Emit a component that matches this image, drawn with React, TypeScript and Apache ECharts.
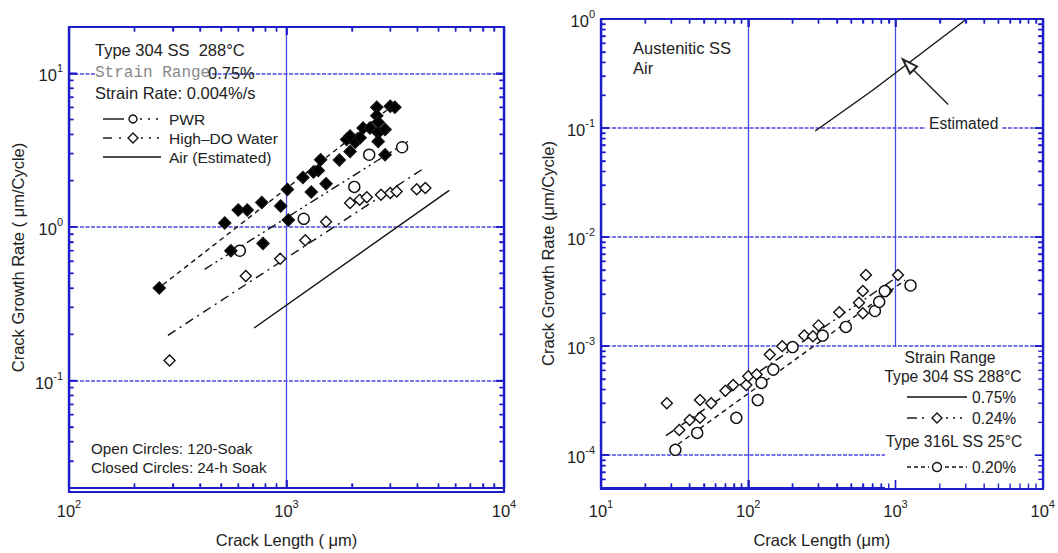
import React, { useEffect, useRef } from 'react';
import * as echarts from 'echarts';

// ---------- data (left panel: Type 304 SS, 288°C) ----------
const leftClosedDiamonds: [number, number][] = [
  [260, 0.40], [520, 1.06], [600, 1.29], [660, 1.29], [770, 1.44], [940, 1.37],
  [555, 0.70], [780, 0.78], [1010, 1.75], [1020, 1.11], [1190, 2.1], [1300, 1.69],
  [1330, 2.28], [1400, 2.33], [1435, 2.74], [1520, 1.91], [1750, 2.73], [1890, 3.7],
  [1960, 3.1], [2070, 3.55], [2180, 3.8], [2250, 4.4], [2600, 6.0], [2600, 5.3],
  [2640, 4.8], [2640, 4.1], [2840, 4.3], [2640, 3.6], [2840, 2.95], [3000, 6.1],
  [3150, 6.0], [2420, 4.4], [1960, 3.9],
];
const leftOpenCircles: [number, number][] = [
  [610, 0.70], [1200, 1.13], [2050, 1.82], [2400, 2.95], [3400, 3.3],
];
const leftOpenDiamonds: [number, number][] = [
  [290, 0.135], [650, 0.48], [935, 0.62], [1220, 0.82], [1520, 1.08], [1960, 1.43],
  [2170, 1.5], [2340, 1.56], [2720, 1.62], [3000, 1.66], [3210, 1.70], [3970, 1.76], [4350, 1.79],
];
const leftClosedFit: [number, number][] = [[270, 0.42], [3220, 6.47]];
const leftPwrFit: [number, number][] = [[420, 0.53], [3700, 3.68]];
const leftOpenFit: [number, number][] = [[285, 0.197], [4250, 2.39]];
const leftAir: [number, number][] = [[710, 0.22], [5600, 1.73]];

// ---------- data (right panel: Austenitic SS, air) ----------
const rightDiamonds: [number, number][] = [
  [28, 3.0e-4], [34, 1.7e-4], [40, 2.1e-4], [47, 3.2e-4], [47, 2.2e-4], [56, 3.0e-4],
  [70, 3.9e-4], [79, 4.4e-4], [97, 4.4e-4], [100, 5.3e-4], [114, 5.5e-4], [140, 8.4e-4],
  [170, 1.0e-3], [240, 1.25e-3], [275, 1.23e-3], [300, 1.55e-3], [415, 2.05e-3],
  [565, 2.5e-3], [600, 2.0e-3], [600, 3.2e-3], [630, 4.5e-3], [870, 3.2e-3], [1040, 4.5e-3],
];
const rightCircles: [number, number][] = [
  [32, 1.12e-4], [45, 1.6e-4], [83, 2.2e-4], [116, 3.2e-4], [123, 4.6e-4], [148, 6.1e-4],
  [200, 9.8e-4], [320, 1.25e-3], [460, 1.5e-3], [725, 2.1e-3], [775, 2.55e-3],
  [845, 3.2e-3], [1265, 3.6e-3],
];
const rightEstimated: [number, number][] = [[285, 0.094], [700, 0.222], [3040, 1.0]];
const rightFit024: [number, number][] = [[27.6, 1.51e-4], [1070, 4.48e-3]];
const rightFit020: [number, number][] = [[33.4, 1.26e-4], [1160, 4.03e-3]];
const arrowTail: [number, number] = [2280, 0.164];
const arrowTip: [number, number] = [1219, 0.381];

// axis ranges
const leftX = [100, 10000];
const leftY = [0.02, 20];
const rightX = [10, 10000];
const rightY = [5e-5, 1];
const MINOR_MULTS = [2, 3, 4, 5, 6, 7, 8, 9];

const FONT = '"Liberation Sans", Arial, Helvetica, sans-serif';
const TXT = '#222';
const AXIS = '#1c1cc8';
const GRID = '#4a4ae0';
const FS = 16.5;

const GRIDS = [
  { left: 69, top: 27, width: 435, height: 465 },
  { left: 601, top: 19, width: 442, height: 470 },
];

function supLabel(v: number): string {
  const l = Math.log10(v);
  const e = Math.round(l);
  if (Math.abs(l - e) > 1e-6) return '';
  return `{b|10}{s|${e}}`;
}

const labelRich = {
  b: { fontSize: 16.5, fontFamily: FONT, color: TXT, verticalAlign: 'bottom', lineHeight: 21 },
  s: { fontSize: 11, fontFamily: FONT, color: TXT, verticalAlign: 'top', lineHeight: 11 },
};

// tick values (data space) inside a log range
function tickValues(range: number[], major: boolean): number[] {
  const lo = Math.log10(range[0]);
  const hi = Math.log10(range[1]);
  const out: number[] = [];
  for (let e = Math.floor(lo) - 1; e <= Math.ceil(hi); e++) {
    const mults = major ? [1] : MINOR_MULTS;
    for (const k of mults) {
      const l = Math.log10(k) + e;
      if (l > lo + 1e-9 && l < hi - 1e-9) out.push(k * Math.pow(10, e));
    }
  }
  return out;
}

function axisSet(dim: 'x' | 'y', grid: number, range: number[], name: string, nameGap: number) {
  const lo = Math.log10(range[0]);
  const hi = Math.log10(range[1]);
  const minors = tickValues(range, false).map((v) => Math.log10(v));
  const pos = dim === 'x' ? ['bottom', 'top'] : ['left', 'right'];
  const major = (p: string, main: boolean) => ({
    type: 'log',
    logBase: 10,
    gridIndex: grid,
    position: p,
    min: range[0],
    max: range[1],
    name: main ? name : '',
    nameLocation: 'middle',
    nameGap,
    nameTextStyle: { fontFamily: FONT, fontSize: FS, color: TXT },
    axisLine: { show: true, onZero: false, lineStyle: { color: AXIS, width: 2.2 } },
    axisTick: { show: true, inside: true, length: 8, lineStyle: { color: AXIS, width: 1.6 } },
    axisLabel: { show: main, formatter: supLabel, rich: labelRich, margin: dim === 'x' ? 10 : 6 },
    splitLine: {
      show: main,
      lineStyle: dim === 'x'
        ? { color: GRID, width: 1.3, type: 'solid' }
        : { color: GRID, width: 1.5, type: [4, 1.5] },
    },
  });
  const minor = (p: string) => ({
    type: 'value',
    gridIndex: grid,
    position: p,
    min: lo,
    max: hi,
    axisLine: { show: false, onZero: false },
    axisLabel: { show: false },
    splitLine: { show: false },
    axisTick: { show: true, inside: true, length: 4.5, customValues: minors, lineStyle: { color: AXIS, width: 1.4 } },
  });
  return [major(pos[0], true), minor(pos[0]), major(pos[1], false), minor(pos[1])];
}

// tick marks on all four sides, placed through the axes' own scales
function tickSeries(grid: number, dim: 'x' | 'y', xr: number[], yr: number[], major: boolean) {
  const vals = tickValues(dim === 'x' ? xr : yr, major);
  const len = major ? 8 : 4.5;
  const lw = major ? 1.6 : 1.4;
  return {
    type: 'custom',
    coordinateSystem: 'cartesian2d',
    xAxisIndex: grid * 4,
    yAxisIndex: grid * 4,
    silent: true,
    clip: false,
    z: 30,
    data: vals.map((v) => (dim === 'x' ? [v, yr[0]] : [xr[0], v])),
    renderItem: (params: any, api: any) => {
      const cs = params.coordSys;
      const p = api.coord([api.value(0), api.value(1)]);
      const st = { stroke: AXIS, lineWidth: lw };
      if (dim === 'x') {
        const x = p[0];
        return {
          type: 'group',
          children: [
            { type: 'line', shape: { x1: x, y1: cs.y + cs.height, x2: x, y2: cs.y + cs.height - len }, style: st },
            { type: 'line', shape: { x1: x, y1: cs.y, x2: x, y2: cs.y + len }, style: st },
          ],
        };
      }
      const y = p[1];
      return {
        type: 'group',
        children: [
          { type: 'line', shape: { x1: cs.x, y1: y, x2: cs.x + len, y2: y }, style: st },
          { type: 'line', shape: { x1: cs.x + cs.width, y1: y, x2: cs.x + cs.width - len, y2: y }, style: st },
        ],
      };
    },
  };
}

function scatter(data: [number, number][], grid: number, symbol: string, size: number, fill: string) {
  return {
    type: 'scatter',
    xAxisIndex: grid * 4,
    yAxisIndex: grid * 4,
    data,
    symbol,
    symbolSize: size,
    itemStyle: { color: fill, borderColor: '#111', borderWidth: 1.4, opacity: 1 },
    z: 5,
  };
}

function fitLine(data: [number, number][], grid: number, type: any, extra: any = {}) {
  return {
    type: 'line',
    xAxisIndex: grid * 4,
    yAxisIndex: grid * 4,
    data,
    symbol: 'none',
    showSymbol: false,
    lineStyle: { color: '#111', width: 1.4, type },
    z: 4,
    ...extra,
  };
}

const T = (x: number, y: number, text: string, extra: any = {}) => ({
  type: 'text',
  x,
  y,
  z: 20,
  style: { text, fontFamily: FONT, fontSize: FS, fill: TXT, verticalAlign: 'middle', ...extra },
});
const L = (x1: number, y1: number, x2: number, y2: number, dash: any = null) => ({
  type: 'line',
  z: 20,
  shape: { x1, y1, x2, y2 },
  style: { stroke: '#111', lineWidth: 1.4, lineDash: dash },
});
const C = (cx: number, cy: number, r: number) => ({
  type: 'circle',
  z: 21,
  shape: { cx, cy, r },
  style: { fill: '#fff', stroke: '#111', lineWidth: 1.4 },
});
const D = (cx: number, cy: number, r: number) => ({
  type: 'polygon',
  z: 21,
  shape: { points: [[cx, cy - r], [cx + r, cy], [cx, cy + r], [cx - r, cy]] },
  style: { fill: '#fff', stroke: '#111', lineWidth: 1.4 },
});
const FRAME = (g: { left: number; top: number; width: number; height: number }) => ({
  type: 'rect',
  z: 40,
  silent: true,
  shape: { x: g.left, y: g.top, width: g.width, height: g.height },
  style: { fill: 'none', stroke: AXIS, lineWidth: 2.2 },
});

const LEG = { fontSize: 15.5 };
const RLEG = { fontSize: 15.6 };

export default function App() {
  const ref = useRef<HTMLDivElement>(null);
  useEffect(() => {
    if (!ref.current) return;
    const chart = echarts.init(ref.current, undefined, { renderer: 'svg' });
    const xAxes = [
      ...axisSet('x', 0, leftX, 'Crack Length ( \u03bcm)', 43),
      ...axisSet('x', 1, rightX, 'Crack Length (\u03bcm)', 43),
    ];
    const yAxes = [
      ...axisSet('y', 0, leftY, 'Crack Growth Rate ( \u03bcm/Cycle)', 43),
      ...axisSet('y', 1, rightY, 'Crack Growth Rate (\u03bcm/Cycle)', 45),
    ];
    const option: any = {
      animation: false,
      grid: GRIDS,
      xAxis: xAxes,
      yAxis: yAxes,
      series: [
        fitLine(leftClosedFit, 0, [5, 4]),
        fitLine(leftPwrFit, 0, [9, 4, 2, 4, 2, 4]),
        fitLine(leftOpenFit, 0, [9, 5, 2, 5]),
        fitLine(leftAir, 0, 'solid'),
        scatter(leftOpenDiamonds, 0, 'diamond', 11, '#fff'),
        scatter(leftOpenCircles, 0, 'circle', 11, '#fff'),
        scatter(leftClosedDiamonds, 0, 'diamond', 12, '#000'),
        fitLine(rightFit024, 1, [9, 4, 2, 4]),
        fitLine(rightFit020, 1, [5, 4]),
        fitLine(rightEstimated, 1, 'solid', {
          markLine: {
            silent: true,
            symbol: ['none', 'emptyTriangle'],
            symbolSize: [10, 15],
            label: { show: false },
            lineStyle: { color: '#222', width: 1.4, type: 'solid' },
            data: [[{ coord: arrowTail }, { coord: arrowTip }]],
          },
        }),
        scatter(rightDiamonds, 1, 'diamond', 11, '#fff'),
        scatter(rightCircles, 1, 'circle', 11, '#fff'),
        tickSeries(0, 'x', leftX, leftY, true),
        tickSeries(0, 'x', leftX, leftY, false),
        tickSeries(0, 'y', leftX, leftY, true),
        tickSeries(0, 'y', leftX, leftY, false),
        tickSeries(1, 'x', rightX, rightY, true),
        tickSeries(1, 'x', rightX, rightY, false),
        tickSeries(1, 'y', rightX, rightY, true),
        tickSeries(1, 'y', rightX, rightY, false),
      ],
    };
    const graphic = [
      FRAME(GRIDS[0]),
      FRAME(GRIDS[1]),
      // left panel annotations
      T(95, 50, 'Type 304 SS  288\u00b0C'),
      T(95, 73, 'Strain Range', { fontFamily: '"Liberation Mono", "DejaVu Sans Mono", monospace', fontSize: 16, fill: '#888', backgroundColor: '#fff' }),
      T(208, 73, '0.75%'),
      T(95, 93, 'Strain Rate: 0.004%/s'),
      L(103, 119, 124, 119),
      C(133, 119, 4),
      L(140, 119, 162, 119, [2, 6]),
      T(169, 119, 'PWR', LEG),
      L(103, 138, 112, 138),
      L(119, 138, 121, 138),
      D(133, 138, 5),
      L(141, 138, 162, 138, [2, 6]),
      T(169, 138, 'High\u2013DO Water', LEG),
      L(103, 157, 161, 157),
      T(169, 157, 'Air (Estimated)', LEG),
      T(91, 448, 'Open Circles: 120-Soak', { fontSize: 15.2 }),
      T(91, 467, 'Closed Circles: 24-h Soak', { fontSize: 15.2 }),
      // right panel annotations
      T(633, 48, 'Austenitic SS'),
      T(633, 68, 'Air'),
      T(926, 123, 'Estimated', { backgroundColor: '#fff', padding: [2, 3], ...RLEG }),
      {
        type: 'rect',
        z: 10,
        shape: { x: 885, y: 347, width: 157, height: 141 },
        style: { fill: '#fff' },
      },
      T(950, 357, 'Strain Range', { align: 'center', ...RLEG }),
      T(953, 376, 'Type 304 SS 288\u00b0C', { align: 'center', ...RLEG }),
      L(907, 397, 967, 397),
      T(972, 397, '0.75%', RLEG),
      L(907, 418, 917, 418),
      L(922, 418, 924, 418),
      D(937, 418, 5),
      L(946, 418, 966, 418, [2, 5]),
      T(972, 418, '0.24%', RLEG),
      T(954, 441, 'Type 316L SS 25\u00b0C', { align: 'center', ...RLEG }),
      L(907, 467, 929, 467, [4, 3]),
      C(937, 467, 4.5),
      L(945, 467, 967, 467, [4, 3]),
      T(972, 467, '0.20%', RLEG),
    ];
    chart.setOption(option);
    chart.setOption({ graphic });
    return () => chart.dispose();
  }, []);
  return (
    <div style={{ position: 'fixed', left: 0, top: 0, width: 1058, height: 553, background: '#fff' }}>
      <div ref={ref} style={{ width: 1058, height: 553 }} />
    </div>
  );
}
